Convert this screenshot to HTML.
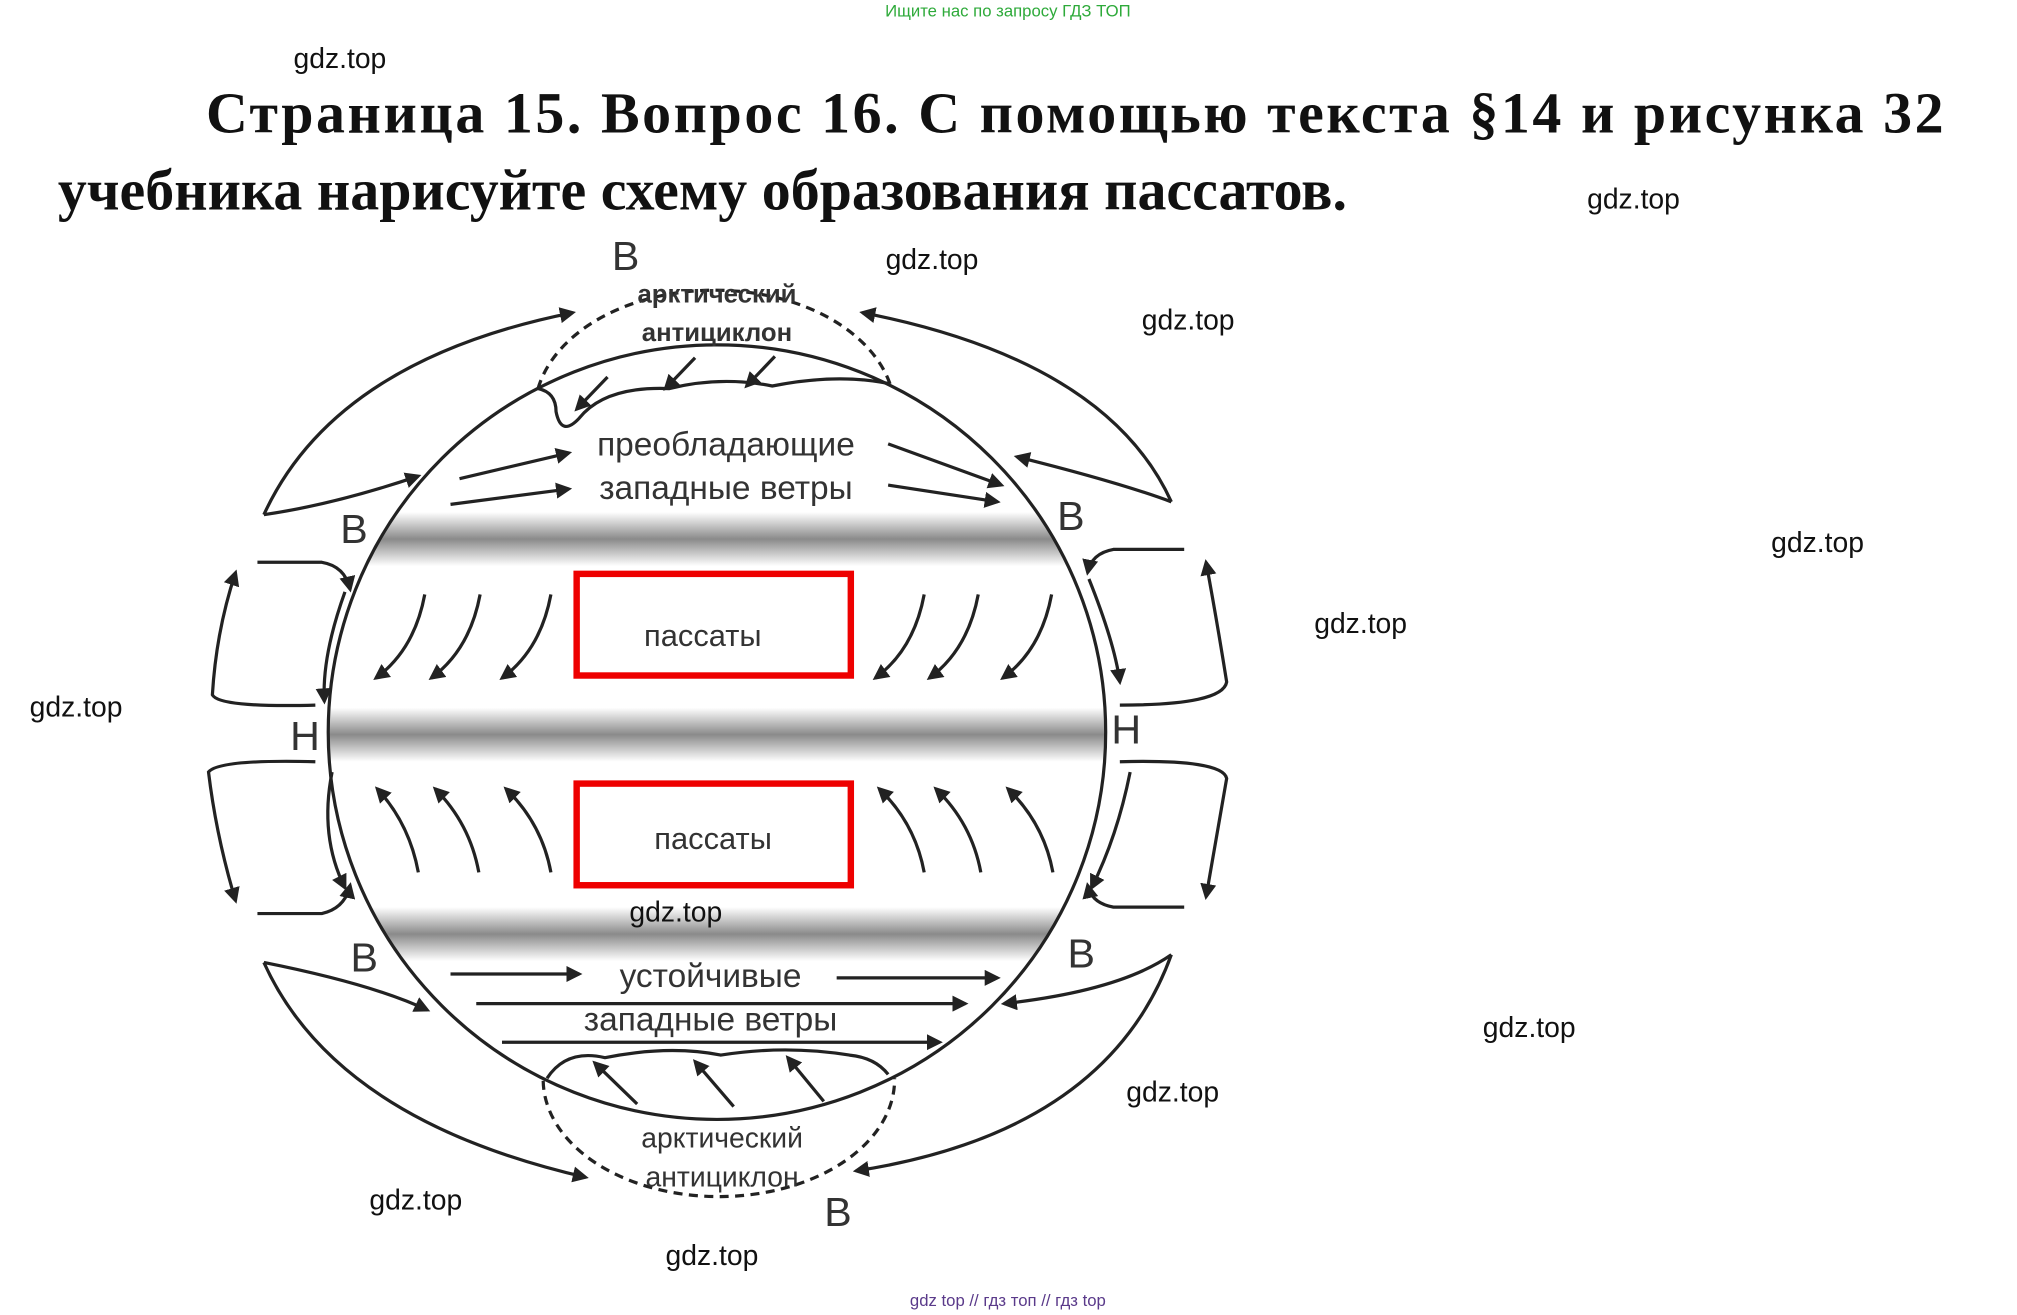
<!DOCTYPE html>
<html><head><meta charset="utf-8"><style>
html,body{margin:0;padding:0;background:#fff;}
svg{display:block;}
</style></head><body>
<svg width="2017" height="1315" viewBox="0 0 1567 1022" preserveAspectRatio="none" xmlns="http://www.w3.org/2000/svg">
<defs>
<marker id="a" viewBox="0 0 10 10" refX="8" refY="5" markerWidth="5" markerHeight="5" orient="auto"><path d="M0,0 L10,5 L0,10 z" fill="#222"/></marker>
<linearGradient id="g" x1="0" y1="0" x2="0" y2="1">
<stop offset="0" stop-color="#fff"/><stop offset="0.5" stop-color="#8a8a8a"/><stop offset="1" stop-color="#fff"/></linearGradient>
<clipPath id="c"><ellipse cx="557" cy="569" rx="302" ry="301"/></clipPath>
</defs>
<text x="783" y="13" font-family="Liberation Sans,sans-serif" font-size="13" fill="#2eaa3a" text-anchor="middle">Ищите нас по запросу ГДЗ ТОП</text>
<g font-family="Liberation Serif,serif" font-weight="bold" font-size="45" fill="#111">
<text x="160" y="103" textLength="1350" lengthAdjust="spacing">Страница 15. Вопрос 16. С помощью текста §14 и рисунка 32</text>
<text x="45" y="163">учебника нарисуйте схему образования пассатов.</text>
</g>
<g clip-path="url(#c)">
<rect x="240" y="398" width="640" height="42" fill="url(#g)"/>
<rect x="240" y="550" width="640" height="42" fill="url(#g)"/>
<rect x="240" y="705" width="640" height="42" fill="url(#g)"/>
</g>
<g fill="none" stroke="#222" stroke-width="2.5">
<ellipse cx="557" cy="569" rx="302" ry="301"/>
<path d="M418,302 A140,95 0 0 1 692,300" stroke-dasharray="7,5"/>
<path d="M422,840 A135,90 0 0 0 695,838" stroke-dasharray="7,5"/>
<path d="M418,302 Q432,305 432,320 Q436,340 450,325 Q470,300 520,302 Q560,292 600,300 Q650,290 690,298"/>
<path d="M425,838 Q440,815 470,822 Q520,812 560,820 Q610,812 660,820 Q680,822 690,835"/>
<path d="M205,400 Q260,280 445,243" marker-end="url(#a)"/>
<path d="M205,400 Q260,392 325,370" marker-end="url(#a)"/>
<path d="M910,390 Q860,280 670,243" marker-end="url(#a)"/>
<path d="M910,390 Q870,375 790,355" marker-end="url(#a)"/>
<path d="M205,748 Q290,765 332,785" marker-end="url(#a)"/>
<path d="M205,748 Q260,870 455,915" marker-end="url(#a)"/>
<path d="M910,742 Q870,770 780,780" marker-end="url(#a)"/>
<path d="M910,742 Q860,880 665,910" marker-end="url(#a)"/>
<path d="M200,437 L250,437 Q268,440 272,458" marker-end="url(#a)"/>
<path d="M200,710 L250,710 Q268,706 272,688" marker-end="url(#a)"/>
<path d="M920,427 L865,427 Q848,430 845,445" marker-end="url(#a)"/>
<path d="M920,705 L865,705 Q848,702 845,688" marker-end="url(#a)"/>
<path d="M245,548 Q170,550 165,540 Q168,490 183,445" marker-end="url(#a)"/>
<path d="M245,592 Q170,590 162,600 Q168,650 183,700" marker-end="url(#a)"/>
<path d="M870,548 Q950,548 953,530 Q945,480 937,437" marker-end="url(#a)"/>
<path d="M870,592 Q950,590 953,605 Q945,650 937,697" marker-end="url(#a)"/>
<path d="M268,460 Q250,510 252,545" marker-end="url(#a)"/>
<path d="M846,450 Q866,500 870,530" marker-end="url(#a)"/>
<path d="M258,600 Q248,650 268,690" marker-end="url(#a)"/>
<path d="M878,600 Q868,650 848,690" marker-end="url(#a)"/>
<path d="M330,462 Q322,505 292,527" marker-end="url(#a)"/>
<path d="M373,462 Q365,505 335,527" marker-end="url(#a)"/>
<path d="M428,462 Q420,505 390,527" marker-end="url(#a)"/>
<path d="M718,462 Q710,505 680,527" marker-end="url(#a)"/>
<path d="M760,462 Q752,505 722,527" marker-end="url(#a)"/>
<path d="M817,462 Q809,505 779,527" marker-end="url(#a)"/>
<path d="M325,678 Q318,640 293,613" marker-end="url(#a)"/>
<path d="M372,678 Q365,640 338,613" marker-end="url(#a)"/>
<path d="M428,678 Q421,640 393,613" marker-end="url(#a)"/>
<path d="M718,678 Q711,640 683,613" marker-end="url(#a)"/>
<path d="M762,678 Q755,640 727,613" marker-end="url(#a)"/>
<path d="M818,678 Q811,640 783,613" marker-end="url(#a)"/>
<path d="M357,372 L442,352" marker-end="url(#a)"/>
<path d="M350,392 L442,380" marker-end="url(#a)"/>
<path d="M690,345 L778,377" marker-end="url(#a)"/>
<path d="M690,377 L775,390" marker-end="url(#a)"/>
<path d="M350,757 L450,757" marker-end="url(#a)"/>
<path d="M650,760 L775,760" marker-end="url(#a)"/>
<path d="M370,780 L750,780" marker-end="url(#a)"/>
<path d="M390,810 L730,810" marker-end="url(#a)"/>
<path d="M472,293 L448,318" marker-end="url(#a)"/>
<path d="M540,278 L517,302" marker-end="url(#a)"/>
<path d="M602,277 L580,300" marker-end="url(#a)"/>
<path d="M495,858 L462,826" marker-end="url(#a)"/>
<path d="M570,860 L540,825" marker-end="url(#a)"/>
<path d="M640,856 L612,822" marker-end="url(#a)"/>
</g>
<rect x="448" y="446" width="213" height="79" fill="none" stroke="#e00" stroke-width="5"/>
<rect x="448" y="609" width="213" height="79" fill="none" stroke="#e00" stroke-width="5"/>
<g font-family="Liberation Sans,sans-serif" fill="#333" text-anchor="middle">
<text x="546" y="502" font-size="24">пассаты</text>
<text x="554" y="660" font-size="24">пассаты</text>
<text x="557" y="235" font-size="20" font-weight="bold">арктический</text>
<text x="557" y="265" font-size="20" font-weight="bold">антициклон</text>
<text x="564" y="354" font-size="26">преобладающие</text>
<text x="564" y="388" font-size="26">западные ветры</text>
<text x="552" y="767" font-size="26">устойчивые</text>
<text x="552" y="801" font-size="26">западные ветры</text>
<text x="561" y="892" font-size="22">арктический</text>
<text x="561" y="922" font-size="22">антициклон</text>
<g font-size="32"><text x="486" y="210">В</text><text x="275" y="422">В</text><text x="832" y="412">В</text><text x="237" y="583">Н</text><text x="875" y="578">Н</text><text x="283" y="755">В</text><text x="840" y="752">В</text><text x="651" y="953">В</text></g>
</g>
<g font-family="Liberation Sans,sans-serif" font-size="22" fill="#111">
<text x="228" y="53">gdz.top</text><text x="1233" y="162">gdz.top</text><text x="688" y="209">gdz.top</text>
<text x="887" y="256">gdz.top</text><text x="1376" y="429">gdz.top</text><text x="1021" y="492">gdz.top</text>
<text x="23" y="557">gdz.top</text><text x="489" y="716">gdz.top</text><text x="1152" y="806">gdz.top</text>
<text x="875" y="856">gdz.top</text><text x="287" y="940">gdz.top</text><text x="517" y="983">gdz.top</text>
</g>
<text x="783" y="1015" font-family="Liberation Sans,sans-serif" font-size="13" fill="#5a3a8a" text-anchor="middle">gdz top  //  гдз топ  //  гдз top</text>
</svg>
</body></html>
